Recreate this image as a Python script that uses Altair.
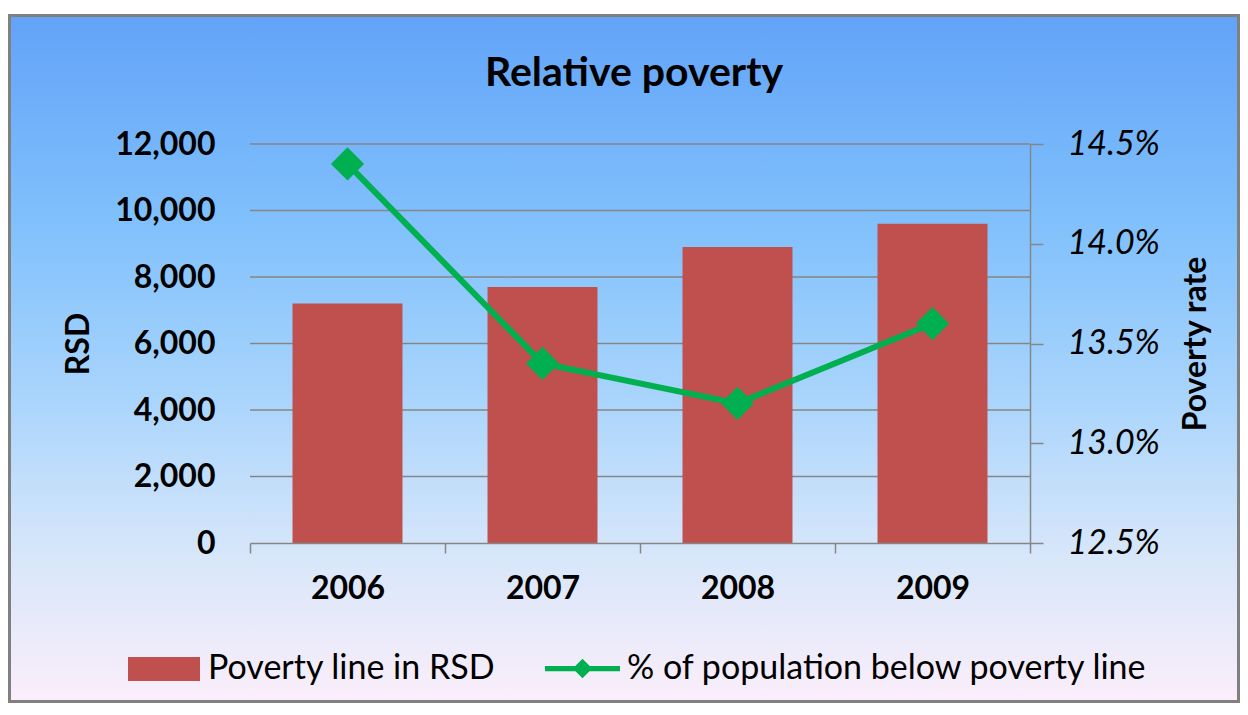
import altair as alt
import pandas as pd

# ---- data ----
years = ["2006", "2007", "2008", "2009"]
poverty_line_rsd = [7200, 7700, 8900, 9600]
poverty_rate_pct = [14.4, 13.4, 13.2, 13.6]
rsd_ticks = [0, 2000, 4000, 6000, 8000, 10000, 12000]
rate_ticks = [12.5, 13.0, 13.5, 14.0, 14.5]
bar_series = "Poverty line in RSD"
line_series = "% of population below poverty line"
chart_title = "Relative poverty"
left_title = "RSD"
right_title = "Poverty rate"

FONT = "Lato"
W, H = 780, 399
PAD = {"left": 242, "top": 136, "right": 210, "bottom": 160}
TOTAL_W = PAD["left"] + W + PAD["right"]
TOTAL_H = PAD["top"] + H + PAD["bottom"]
GREY = "#868686"
RED = "#c0504d"
GREEN = "#00b050"

df = pd.DataFrame({
    "year": years,
    "rsd": poverty_line_rsd,
    "rate": poverty_rate_pct,
    "bar_s": [bar_series] * len(years),
    "line_s": [line_series] * len(years),
})
grid_df = pd.DataFrame({"rsd": rsd_ticks[1:]})
bg_df = pd.DataFrame({"k": [0]})

x_scale = alt.Scale(paddingInner=0, paddingOuter=0)
x_axis = alt.Axis(
    title=None, labelFont=FONT, labelFontSize=32, labelFontWeight="bold",
    labelColor="black", labelPadding=20, tickBand="extent", tickSize=10,
    tickColor=GREY, tickWidth=1.5, domainColor=GREY, domainWidth=1.5,
    labelAngle=0, zindex=1,
)
x_enc = alt.X("year:N", scale=x_scale, axis=x_axis, sort=years)

# background panel with gradient (decoration)
gradient = {
    "gradient": "linear", "x1": 0, "y1": 0, "x2": 0, "y2": 1,
    "stops": [
        {"offset": 0.0, "color": "#62a3f8"},
        {"offset": 0.3, "color": "#80c0fc"},
        {"offset": 0.55, "color": "#a8d4fc"},
        {"offset": 0.78, "color": "#d6e6fa"},
        {"offset": 1.0, "color": "#fbeefa"},
    ],
}
bg = alt.Chart(bg_df).mark_rect(fill=gradient, stroke="#808080", strokeWidth=3).encode(
    x=alt.value(-PAD["left"] + 1.5),
    x2=alt.value(TOTAL_W - PAD["left"] - 1.5),
    y=alt.value(-PAD["top"] + 7.5),
    y2=alt.value(TOTAL_H - PAD["top"] - 1.5),
)

y_left_scale = alt.Scale(domain=[0, 12000], nice=False)
y_left_axis = alt.Axis(
    values=rsd_ticks, format=",.0f", title=left_title, grid=False,
    ticks=False, tickSize=0, domain=False, labelPadding=35,
    labelFont=FONT, labelFontSize=32, labelFontWeight="bold", labelColor="black",
    titleFont=FONT, titleFontSize=32, titleFontWeight="bold", titleColor="black",
    titlePadding=19, zindex=1,
)
grid = alt.Chart(grid_df).mark_rule(color=GREY, strokeWidth=1.5).encode(
    y=alt.Y("rsd:Q", scale=y_left_scale, axis=y_left_axis)
)

bars = alt.Chart(df).mark_bar(width={"band": 0.564}).encode(
    x=x_enc,
    y=alt.Y("rsd:Q", scale=y_left_scale, axis=y_left_axis),
    fill=alt.Fill(
        "bar_s:N", scale=alt.Scale(range=[RED]),
        legend=alt.Legend(
            orient="none", legendX=-122, legendY=489, title=None,
            labelFont=FONT, labelFontSize=34, labelColor="black", labelOffset=8,
            labelLimit=0,
            symbolType="M-1,-0.333H1V0.333H-1Z", symbolSize=5184,
            symbolStrokeWidth=0, padding=0,
        ),
    ),
)

y_right_scale = alt.Scale(domain=[12.5, 14.5], nice=False)
y_right_axis = alt.Axis(
    orient="right", values=rate_ticks, labelExpr="format(datum.value, '.1f') + '%'",
    title=right_title, grid=False, tickSize=13, tickColor=GREY, tickWidth=1.5,
    domainColor=GREY, domainWidth=1.5, labelPadding=24,
    labelFont=FONT, labelFontSize=34, labelFontStyle="italic", labelColor="black",
    titleFont=FONT, titleFontSize=32, titleFontWeight="bold", titleColor="black",
    titleAngle=270, titleBaseline="top", titlePadding=21, zindex=1,
)
line = alt.Chart(df).mark_line(strokeWidth=6).encode(
    x=x_enc,
    y=alt.Y("rate:Q", scale=y_right_scale, axis=y_right_axis),
    stroke=alt.Stroke(
        "line_s:N", scale=alt.Scale(range=[GREEN]),
        legend=alt.Legend(
            orient="none", legendX=295, legendY=487, title=None,
            labelFont=FONT, labelFontSize=34, labelColor="black", labelOffset=7,
            labelLimit=0,
            symbolType="M-1,-0.07H1V0.07H-1Z M0,-0.26L0.26,0L0,0.26L-0.26,0Z",
            symbolSize=5625, symbolFillColor=GREEN, symbolStrokeWidth=0, padding=0,
        ),
    ),
)
points = alt.Chart(df).mark_point(shape="diamond", filled=True, size=1100, color=GREEN, opacity=1).encode(
    x=x_enc,
    y=alt.Y("rate:Q", scale=y_right_scale, axis=y_right_axis),
)

chart = alt.layer(
    bg,
    alt.layer(grid, bars),
    alt.layer(line, points),
).resolve_scale(y="independent").properties(
    width=W, height=H,
    padding=PAD,
    autosize=alt.AutoSizeParams(type="none"),
    title=alt.Title(
        chart_title, font=FONT, fontSize=41, fontWeight="bold", color="black",
        anchor="middle", baseline="alphabetic", offset=-113, dx=-6,
    ),
).configure_view(stroke=None)

chart.save("out.html", embed_options={"renderer": "svg", "actions": False})
